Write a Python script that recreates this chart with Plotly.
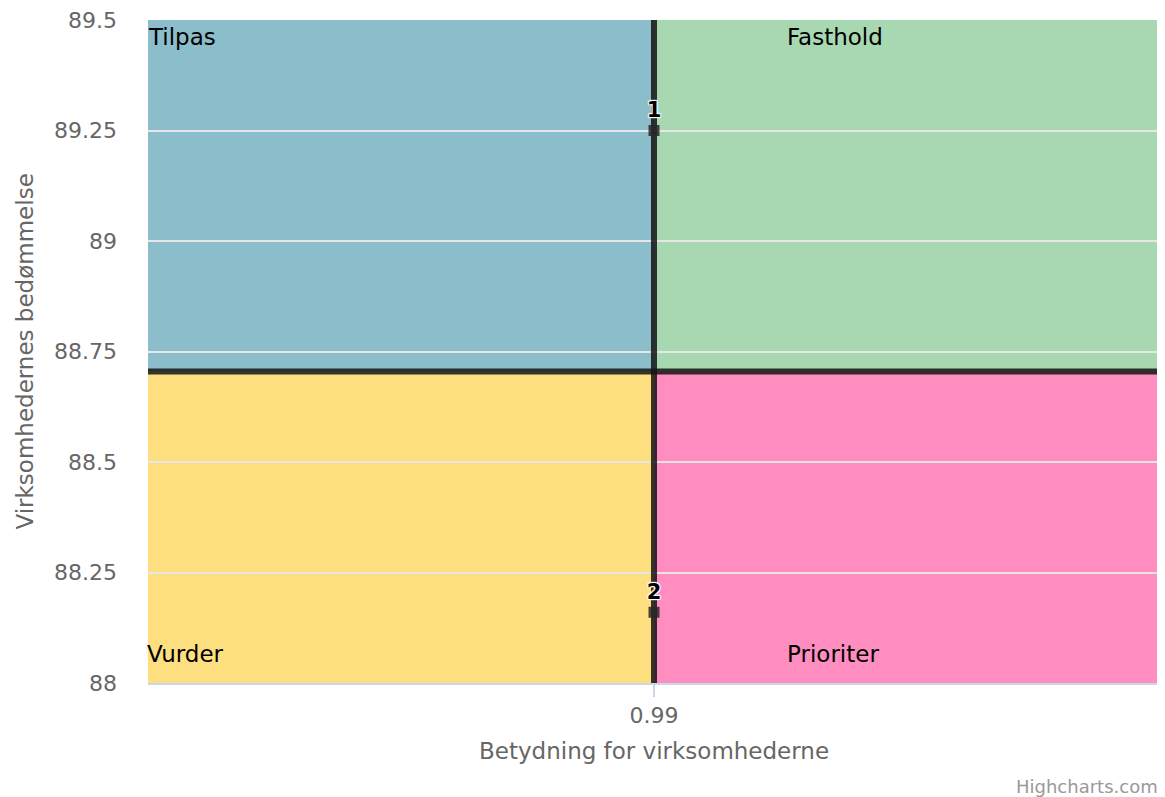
import plotly.graph_objects as go

# Data
point_labels = ["1", "2"]
x_values = [0.99, 0.99]
y_values = [89.25, 88.16]
quadrant_names = ["Tilpas", "Fasthold", "Vurder", "Prioriter"]
quadrant_colors = ["#8bbdcb", "#a8d8b2", "#fddf80", "#ff8dbf"]
x_ticks = [0.99]
y_ticks = [88, 88.25, 88.5, 88.75, 89, 89.25, 89.5]
y_tick_text = ["88", "88.25", "88.5", "88.75", "89", "89.25", "89.5"]
x_range = [0.98, 1.0]
y_range = [88, 89.5]

x_mid = sum(x_values) / len(x_values)
y_mid = sum(y_values) / len(y_values)

FONT = "DejaVu Sans, Verdana, sans-serif"

fig = go.Figure()

fig.add_trace(go.Scatter(
    x=x_values, y=y_values, mode="markers+text",
    text=point_labels, textposition="top center",
    marker=dict(symbol="square", size=11, color="rgba(40,40,40,0.85)"),
    textfont=dict(family=FONT, size=21, color="#000000", weight="bold",
                  shadow="1px 1px 1px #fff, -1px -1px 1px #fff, 1px -1px 1px #fff, -1px 1px 1px #fff"),
    hoverinfo="skip", showlegend=False, cliponaxis=False,
))

shapes = []
quads = [
    (x_range[0], x_mid, y_mid, y_range[1]),
    (x_mid, x_range[1], y_mid, y_range[1]),
    (x_range[0], x_mid, y_range[0], y_mid),
    (x_mid, x_range[1], y_range[0], y_mid),
]
for (x0, x1, y0, y1), c in zip(quads, quadrant_colors):
    shapes.append(dict(type="rect", xref="x", yref="y", x0=x0, x1=x1, y0=y0, y1=y1,
                       fillcolor=c, line=dict(width=0), layer="below"))
shapes.append(dict(type="line", xref="x", yref="y", x0=x_mid, x1=x_mid, y0=y_range[0], y1=y_range[1],
                   line=dict(color="rgba(20,20,20,0.85)", width=6), layer="between"))
shapes.append(dict(type="line", xref="x", yref="y", x0=x_range[0], x1=x_range[1], y0=y_mid, y1=y_mid,
                   line=dict(color="rgba(20,20,20,0.85)", width=6), layer="between"))

annotations = []
quad_pos = [(-0.002, 0.974), (0.629, 0.974), (-0.003, 0.044), (0.629, 0.044)]
for name, (px, py) in zip(quadrant_names, quad_pos):
    annotations.append(dict(text=name, xref="paper", yref="paper", x=px, y=py,
                            xanchor="left", yanchor="middle", showarrow=False,
                            font=dict(family=FONT, size=23, color="#000000")))
annotations.append(dict(text="Virksomhedernes bedømmelse", xref="paper", yref="paper",
                        x=-0.1225, y=0.5, textangle=-90, xanchor="center", yanchor="middle",
                        showarrow=False, font=dict(family=FONT, size=23, color="#666666")))
annotations.append(dict(text="Betydning for virksomhederne", xref="paper", yref="paper",
                        x=0.5, y=-0.1026, xanchor="center", yanchor="middle",
                        showarrow=False, font=dict(family=FONT, size=23, color="#666666")))
annotations.append(dict(text="Highcharts.com", xref="paper", yref="paper",
                        x=1.0, y=-0.1554, xanchor="right", yanchor="middle",
                        showarrow=False, font=dict(family=FONT, size=18, color="#999999")))

# page body has an 8px margin: plot area targets screen x 148..1160, y 20..683
fig.update_layout(
    width=1157, height=789,
    margin=dict(l=140, r=5, t=12, b=114, autoexpand=False),
    paper_bgcolor="#ffffff", plot_bgcolor="#ffffff",
    shapes=shapes, annotations=annotations,
    xaxis=dict(range=x_range, tickvals=x_ticks, ticktext=["0.99"], showgrid=False,
               zeroline=False, showline=True, linecolor="#ccd6eb", linewidth=2,
               ticks="outside", ticklen=12, tickwidth=2, tickcolor="#ccd6eb",
               automargin=False, ticklabeloverflow="allow",
               tickfont=dict(family=FONT, size=22, color="#666666")),
    yaxis=dict(range=y_range, tickvals=y_ticks, ticktext=y_tick_text, showgrid=True,
               gridcolor="#e6e6e6", gridwidth=2, zeroline=False, showline=False,
               ticks="", ticklabelstandoff=30, automargin=False, ticklabeloverflow="allow",
               tickfont=dict(family=FONT, size=22, color="#666666")),
)

fig.write_html("out.html")
